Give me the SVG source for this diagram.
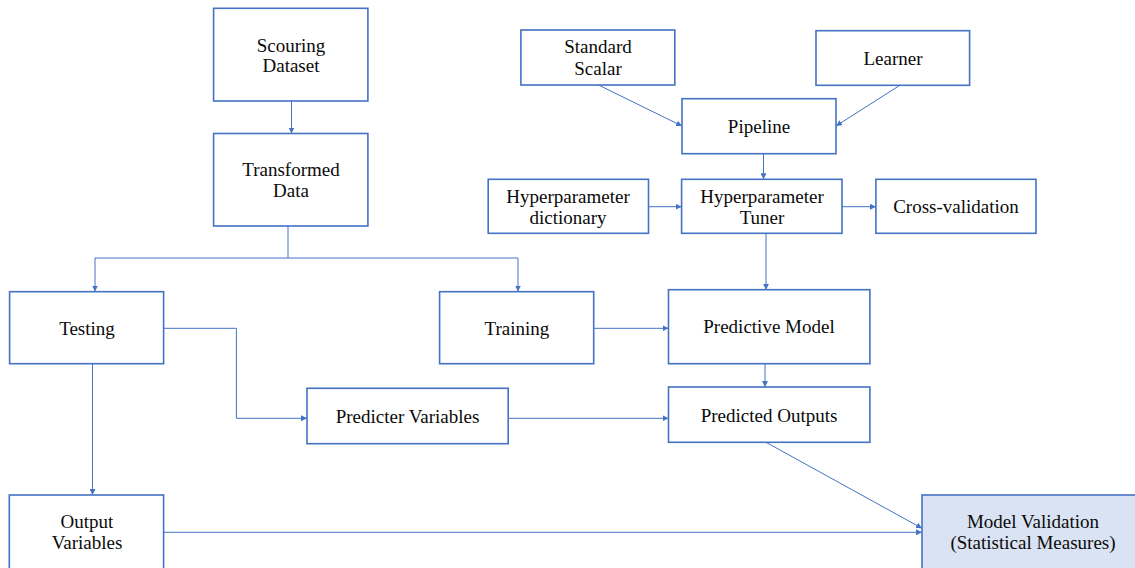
<svg xmlns="http://www.w3.org/2000/svg" width="1135" height="568" viewBox="0 0 1135 568">
<style>
.box{fill:#ffffff;stroke:#4472c4;stroke-width:1.6}
.hl{fill:#dae3f3;stroke:#4472c4;stroke-width:1.6}
.t{font-family:"Liberation Serif","Times New Roman",serif;font-size:19px;fill:#0a0a0a;text-anchor:middle}
.c{fill:none;stroke:#4472c4;stroke-width:1;marker-end:url(#ah)}
.n{fill:none;stroke:#4472c4;stroke-width:1}
</style>
<defs>
<marker id="ah" markerUnits="userSpaceOnUse" markerWidth="6" markerHeight="6" refX="6" refY="3" orient="auto">
<path d="M0,0 L6,3 L0,6 z" fill="#4472c4"/>
</marker>
</defs>
<rect width="1135" height="568" fill="#ffffff"/>
<g id="connectors">
<path class="c" d="M291.5,101 V133.5"/>
<path class="n" d="M288,226 V258 M95,258 H518"/>
<path class="c" d="M95,258 V291.5"/>
<path class="c" d="M518,258 V291.5"/>
<path class="c" d="M598.5,85 L682,126"/>
<path class="c" d="M899.5,85.5 L836,126"/>
<path class="c" d="M763.5,153.7 V179.3"/>
<path class="c" d="M648.5,206.7 H681.6"/>
<path class="c" d="M842,206.7 H875.9"/>
<path class="c" d="M766,233.3 V289.7"/>
<path class="c" d="M593.7,328.3 H668.5"/>
<path class="c" d="M765,363.7 V387"/>
<path class="c" d="M163.6,328.3 H236.4 V418.3 H307"/>
<path class="c" d="M508.2,418.3 H668.5"/>
<path class="c" d="M92.5,363.7 V495"/>
<path class="c" d="M766,442.3 L922,528.3"/>
<path class="c" d="M163.6,532.3 H922"/>
</g>
<g id="scouring">
<rect class="box" x="213.6" y="8.3" width="154.3" height="92.7"/>
<text class="t" x="291" y="51.5">Scouring</text>
<text class="t" x="291" y="72">Dataset</text>
</g>
<g id="transformed">
<rect class="box" x="213.6" y="133.5" width="154.3" height="92.5"/>
<text class="t" x="291" y="176">Transformed</text>
<text class="t" x="291" y="196.5">Data</text>
</g>
<g id="standard-scalar">
<rect class="box" x="520.9" y="30" width="153.9" height="55"/>
<text class="t" x="598" y="53">Standard</text>
<text class="t" x="598" y="74.5">Scalar</text>
</g>
<g id="learner">
<rect class="box" x="816" y="30.7" width="153.6" height="54.6"/>
<text class="t" x="893" y="64.5">Learner</text>
</g>
<g id="pipeline">
<rect class="box" x="682" y="98.7" width="154" height="55"/>
<text class="t" x="759" y="132.5">Pipeline</text>
</g>
<g id="hyper-dict">
<rect class="box" x="488.2" y="179.3" width="160.3" height="54"/>
<text class="t" x="568" y="202.5">Hyperparameter</text>
<text class="t" x="568" y="223.5">dictionary</text>
</g>
<g id="hyper-tuner">
<rect class="box" x="681.6" y="179.3" width="160.4" height="54"/>
<text class="t" x="762" y="202.5">Hyperparameter</text>
<text class="t" x="762" y="223.5">Tuner</text>
</g>
<g id="cross-validation">
<rect class="box" x="875.9" y="179.3" width="160.1" height="54"/>
<text class="t" x="956" y="213">Cross-validation</text>
</g>
<g id="testing">
<rect class="box" x="9.6" y="291.7" width="154" height="72"/>
<text class="t" x="87" y="334.5">Testing</text>
</g>
<g id="training">
<rect class="box" x="439.6" y="291.7" width="154.1" height="72"/>
<text class="t" x="517" y="334.5">Training</text>
</g>
<g id="predictive-model">
<rect class="box" x="668.5" y="289.7" width="201.4" height="74"/>
<text class="t" x="769" y="333">Predictive Model</text>
</g>
<g id="predicter-variables">
<rect class="box" x="307" y="388.3" width="201.2" height="55.4"/>
<text class="t" x="407.5" y="423">Predicter Variables</text>
</g>
<g id="predicted-outputs">
<rect class="box" x="668.5" y="387" width="201.4" height="55.3"/>
<text class="t" x="769" y="421.5">Predicted Outputs</text>
</g>
<g id="output-variables">
<rect class="box" x="9.3" y="495" width="154.3" height="80"/>
<text class="t" x="87" y="528">Output</text>
<text class="t" x="87" y="548.5">Variables</text>
</g>
<g id="model-validation">
<rect class="hl" x="922" y="495" width="220" height="80"/>
<text class="t" x="1033" y="528">Model Validation</text>
<text class="t" x="1033" y="548.5">(Statistical Measures)</text>
</g>
</svg>
